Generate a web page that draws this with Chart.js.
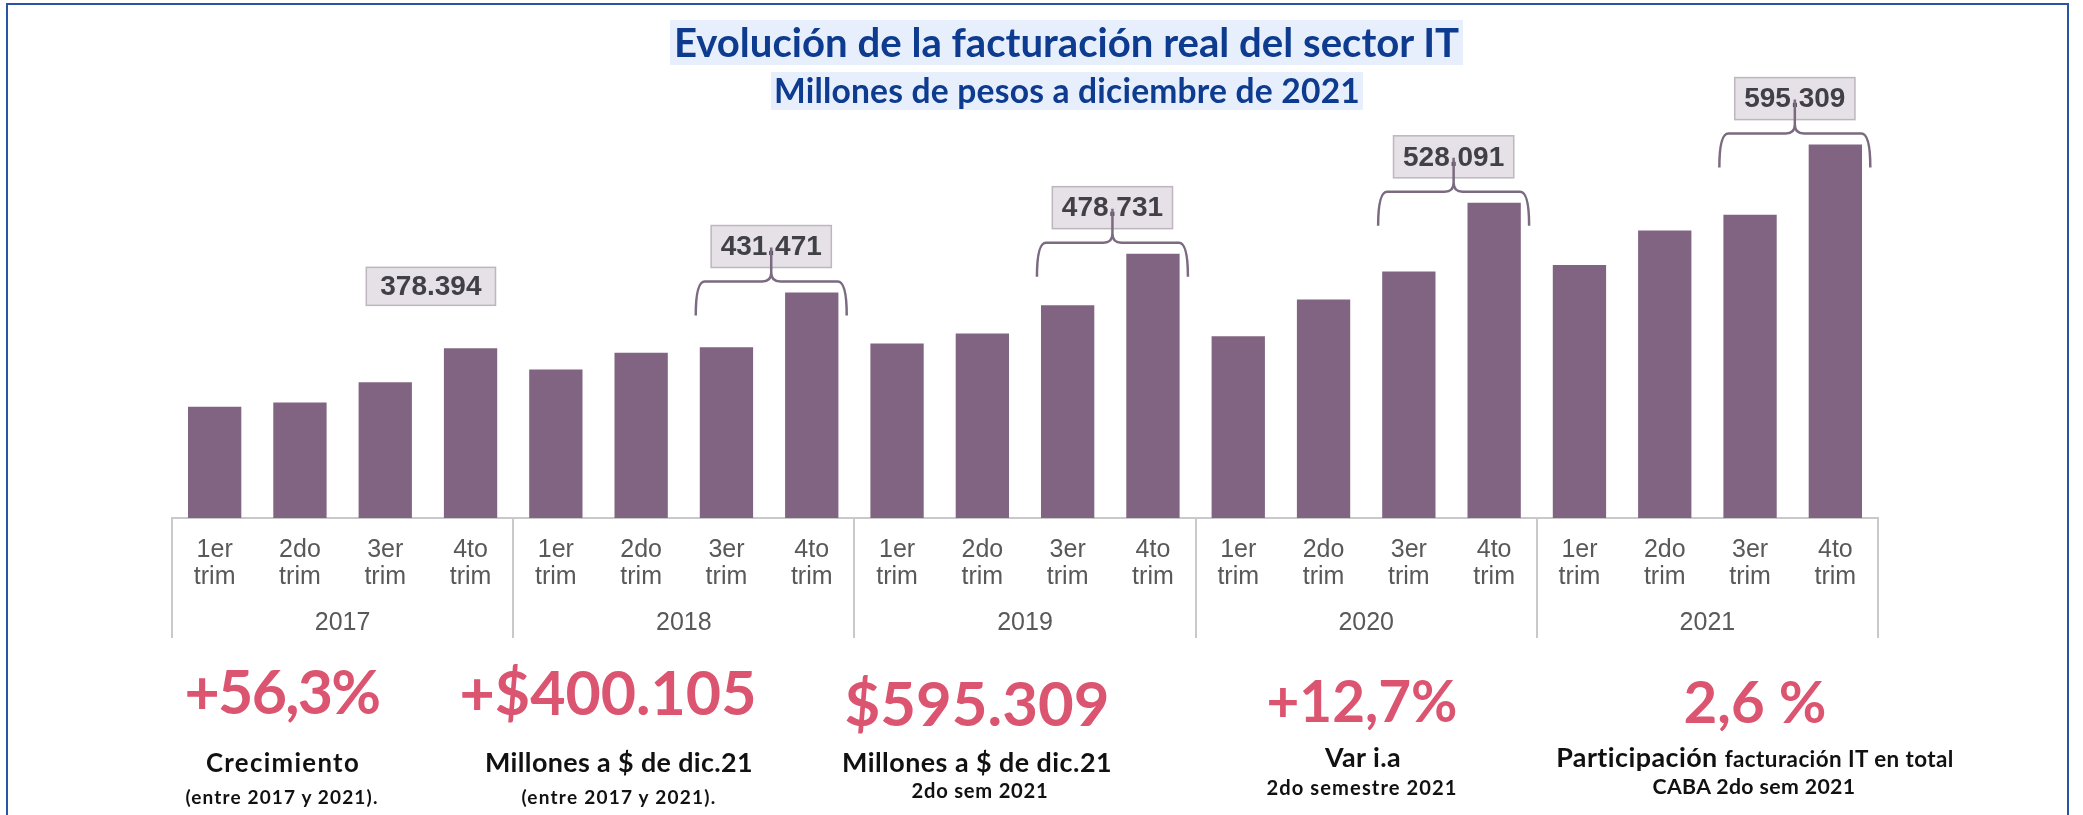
<!DOCTYPE html>
<html>
<head>
<meta charset="utf-8">
<script src="https://cdn.jsdelivr.net/npm/chart.js"></script>
<style>
  body { margin:0; width:2083px; height:815px; background:#fff; position:relative; overflow:hidden; font-family: Lato, "Open Sans", sans-serif; }
  #frame { position:absolute; left:6px; top:3px; width:2063px; height:840px; border:2px solid #2a54a4; box-sizing:border-box; }
  #chartBox { position:absolute; left:0; top:0; width:2083px; height:815px; }
  .hl { position:absolute; background:#e8effc; color:#0c3b8f; font-weight:bold; display:flex; align-items:center; justify-content:center; white-space:nowrap; line-height:1; }
  #title { left:670px; top:20px; width:793px; height:45px; font-size:36px; }
  #subtitle { left:771px; top:72px; width:592px; height:38px; font-size:30px; }
  .s { position:absolute; transform:translateX(-50%); white-space:nowrap; font-weight:bold; line-height:1; }
  .big { color:#db5470; }
  .lbl { color:#111; }
</style>
</head>
<body>
<div id="chartBox"><canvas id="grafico" width="2083" height="815"></canvas></div>
<div id="frame"></div>
<div class="hl" id="title"><span data-w="785">Evolución de la facturación real del sector IT</span></div>
<div class="hl" id="subtitle"><span data-w="586">Millones de pesos a diciembre de 2021</span></div>

<div class="s big" style="left:282px; top:661px; font-size:64px;" data-w="195">+56,3%</div>
<div class="s lbl" style="left:283px; top:750px; font-size:23px;" data-w="154">Crecimiento</div>
<div class="s lbl" style="left:282px; top:787px; font-size:17px;" data-w="193">(entre 2017 y 2021).</div>

<div class="s big" style="left:608px; top:662px; font-size:64px;" data-w="297">+$400.105</div>
<div class="s lbl" style="left:619px; top:749px; font-size:24px;" data-w="268">Millones a $ de dic.21</div>
<div class="s lbl" style="left:619px; top:787px; font-size:17px;" data-w="195">(entre 2017 y 2021).</div>

<div class="s big" style="left:977px; top:672px; font-size:60px;" data-w="265">$595.309</div>
<div class="s lbl" style="left:977px; top:749px; font-size:24px;" data-w="270">Millones a $ de dic.21</div>
<div class="s lbl" style="left:980px; top:780px; font-size:18px;" data-w="137">2do sem 2021</div>

<div class="s big" style="left:1362px; top:672px; font-size:52px;" data-w="191">+12,7%</div>
<div class="s lbl" style="left:1363px; top:744px; font-size:24px;" data-w="76">Var i.a</div>
<div class="s lbl" style="left:1362px; top:777px; font-size:18px;" data-w="191">2do semestre 2021</div>

<div class="s big" style="left:1755px; top:672px; font-size:52px;" data-w="143">2,6 %</div>
<div class="s lbl" style="left:1755px; top:744px; font-size:24px;" data-w="398">Participación <span style="font-size:20px">facturación IT en total</span></div>
<div class="s lbl" style="left:1754px; top:776px; font-size:19px;" data-w="203">CABA 2do sem 2021</div>

<script>
// facturacion trimestral, millones de pesos a dic. 2021
const trimestres = [['1er', 'trim'], ['2do', 'trim'], ['3er', 'trim'], ['4to', 'trim']];
const anios = ['2017', '2018', '2019', '2020', '2021'];
const facturacion = [
    165000, 167500, 179300, 199100,
    186800, 196500, 199800, 231700,
    202000, 207800, 224300, 254400,
    206200, 227600, 244000, 284100,
    247800, 267900, 277200, 318100
];
// total del 2do semestre de cada año
const totalSemestre = ['378.394', '431.471', '478.731', '528.091', '595.309'];
const conLlave = [false, true, true, true, true];

const etiquetas = anios.flatMap(() => trimestres);
const gris = '#c9c9c9';

// separadores de años debajo del eje
const separadores = {
    id: 'separadores',
    afterDraw(chart) {
        const x2 = chart.scales.x2;
        const ctx = chart.ctx;
        ctx.save();
        ctx.strokeStyle = gris;
        ctx.lineWidth = 2;
        for (let i = 0; i <= anios.length; i++) {
            const px = Math.round(x2.getPixelForValue(i - 0.5));
            ctx.beginPath();
            ctx.moveTo(px, chart.chartArea.bottom);
            ctx.lineTo(px, x2.bottom + 2);
            ctx.stroke();
        }
        ctx.restore();
    }
};

// cajas con el total del semestre y llaves sobre 3er y 4to trim
const llaves = {
    id: 'llaves',
    afterDatasetsDraw(chart) {
        const ctx = chart.ctx;
        const meta = chart.getDatasetMeta(0);
        const xs = chart.scales.x;
        const paso = xs.getPixelForValue(1) - xs.getPixelForValue(0);
        totalSemestre.forEach((txt, g) => {
            const a = meta.data[g * 4 + 2], b = meta.data[g * 4 + 3];
            const llave = conLlave[g];
            const tope = Math.min(a.y, b.y);
            const izq = a.x - paso * 0.36, der = b.x + paso * 0.41;
            const cx = llave ? (izq + der) / 2 : (a.x + b.x) / 2 + 3;
            const base = tope - (llave ? 25 : 43);

            ctx.save();
            ctx.font = 'bold 28px "Liberation Sans", Arial, sans-serif';
            const ancho = ctx.measureText(txt).width + (llave ? 19 : 28);
            const alto = llave ? 42 : 38;
            ctx.fillStyle = '#e6e0e7';
            ctx.fillRect(cx - ancho / 2, base - alto, ancho, alto);
            ctx.strokeStyle = '#bdb6be';
            ctx.lineWidth = 1.5;
            ctx.strokeRect(cx - ancho / 2, base - alto, ancho, alto);
            ctx.fillStyle = '#404046';
            ctx.textAlign = 'center';
            ctx.textBaseline = 'middle';
            ctx.fillText(txt, cx, base - alto / 2 + 1);

            if (llave) {
                const yh = base + 14, pata = 34, r = 9, punta = base - 20;
                ctx.strokeStyle = '#7b6a80';
                ctx.lineWidth = 2.5;
                ctx.beginPath();
                ctx.moveTo(izq, yh + pata);
                ctx.quadraticCurveTo(izq, yh, izq + r, yh);
                ctx.lineTo(cx - r, yh);
                ctx.quadraticCurveTo(cx, yh, cx, yh - r);
                ctx.lineTo(cx, punta);
                ctx.moveTo(cx, yh - r);
                ctx.quadraticCurveTo(cx, yh, cx + r, yh);
                ctx.lineTo(der - r, yh);
                ctx.quadraticCurveTo(der, yh, der, yh + pata);
                ctx.stroke();
            }
            ctx.restore();
        });
    }
};

const ctx1 = document.getElementById('grafico');

new Chart(ctx1, {
    type: 'bar',
    data: {
        labels: etiquetas,
        datasets: [{
            label: 'Facturación real sector IT',
            data: facturacion,
            backgroundColor: '#806482',
            categoryPercentage: 1,
            barPercentage: 0.625
        }]
    },
    options: {
        responsive: false,
        animation: false,
        layout: {
            padding: { left: 172, right: 205, top: 90, bottom: 179 }
        },
        plugins: {
            legend: { display: false },
            tooltip: { enabled: false }
        },
        scales: {
            y: {
                display: false,
                min: 100000,
                max: 350000
            },
            x: {
                weight: 0,
                grid: { display: false, drawTicks: false },
                border: { display: true, color: gris, width: 2 },
                ticks: {
                    autoSkip: false,
                    maxRotation: 0,
                    padding: 19,
                    color: '#595959',
                    font: { family: '"Liberation Sans", Arial, sans-serif', size: 25, lineHeight: 1.08 }
                }
            },
            x2: {
                type: 'category',
                labels: anios,
                position: 'bottom',
                offset: true,
                weight: 1,
                grid: { display: false, drawTicks: false },
                border: { display: false },
                ticks: {
                    padding: 0,
                    color: '#595959',
                    font: { family: '"Liberation Sans", Arial, sans-serif', size: 25, lineHeight: 1.04 }
                }
            }
        }
    },
    plugins: [separadores, llaves]
});

// ajustar al ancho del original: primero algo de tamaño, el resto con espaciado
document.fonts.ready.then(() => {
    document.querySelectorAll('[data-w]').forEach(el => {
        const objetivo = +el.dataset.w;
        let natural = el.getBoundingClientRect().width;
        const f = Math.min(1.12, Math.max(0.95, objetivo / natural));
        el.style.fontSize = (parseFloat(getComputedStyle(el).fontSize) * f) + 'px';
        el.querySelectorAll('span').forEach(sp => {
            sp.style.fontSize = (parseFloat(getComputedStyle(sp).fontSize) * f) + 'px';
        });
        natural = el.getBoundingClientRect().width;
        const n = el.textContent.length;
        el.style.letterSpacing = ((objetivo - natural) / n).toFixed(2) + 'px';
    });
});
</script>
</body>
</html>
